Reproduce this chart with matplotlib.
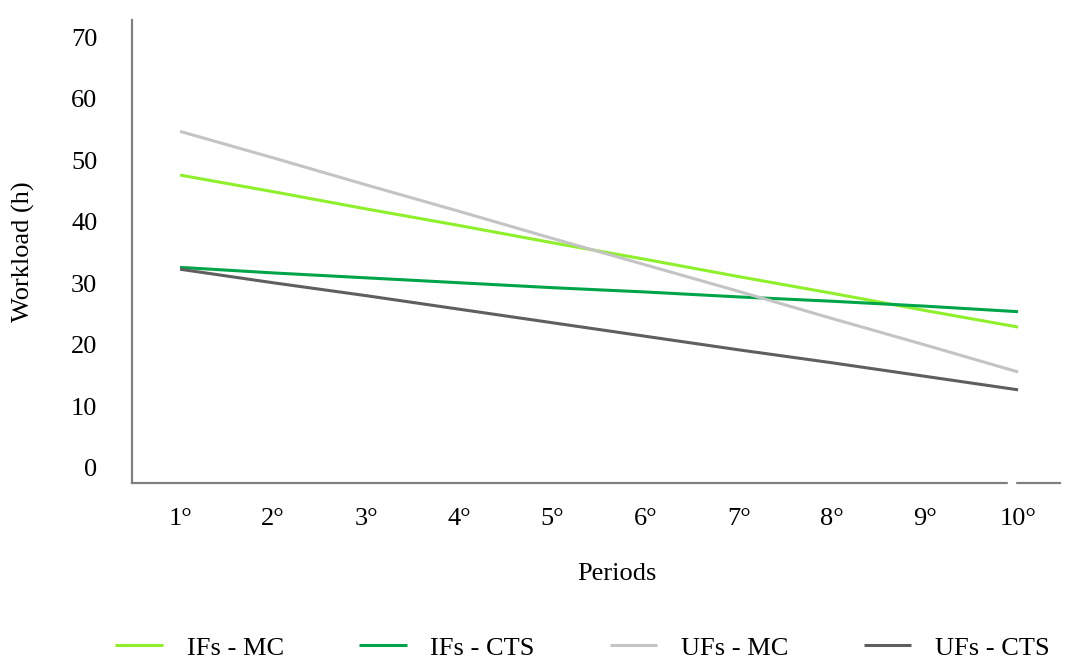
import matplotlib
matplotlib.use("Agg")
import matplotlib.pyplot as plt

# periods 1..10
periods = ["1°", "2°", "3°", "4°", "5°", "6°", "7°", "8°", "9°", "10°"]
ifs_mc = [47.6, 44.9, 42.1, 39.4, 36.6, 33.9, 31.1, 28.4, 25.6, 22.9]
ifs_cts = [32.6, 31.7, 30.9, 30.1, 29.3, 28.6, 27.8, 27.1, 26.3, 25.4]
ufs_mc = [54.7, 50.4, 46.0, 41.7, 37.3, 33.0, 28.7, 24.3, 20.0, 15.6]
ufs_cts = [32.3, 30.1, 28.0, 25.8, 23.6, 21.4, 19.2, 17.1, 14.9, 12.7]

series = [
    ("IFs - MC", ifs_mc, "#8EF02A"),
    ("IFs - CTS", ifs_cts, "#00A54A"),
    ("UFs - MC", ufs_mc, "#C4C4C4"),
    ("UFs - CTS", ufs_cts, "#5F5F5F"),
]

plt.rcParams["font.family"] = ["Liberation Serif", "DejaVu Serif"]
fs = 19

fig = plt.figure(figsize=(10.65, 6.61), dpi=100)
ax = fig.add_axes([132 / 1065, 178 / 661, (1060 - 132) / 1065, (483 - 20) / 661])

x = list(range(1, len(periods) + 1))
for name, vals, col in series:
    ax.plot(x, vals, color=col, lw=2.2, label=name, solid_capstyle="butt")

ax.set_xlim(0.484, 10.45)
ax.set_ylim(-2.44, 72.8)
ax.set_xticks(x)
ax.set_xticklabels(periods)
ax.set_yticks(range(0, 71, 10))
ax.tick_params(length=0, labelsize=fs)
ax.tick_params(axis="x", pad=18)
ax.tick_params(axis="y", pad=25)

for s in ["top", "right"]:
    ax.spines[s].set_visible(False)
for s in ["left", "bottom"]:
    ax.spines[s].set_color("#808080")
    ax.spines[s].set_linewidth(1.6)

# small break in the x axis just before the last period
ax.axvspan(9.89, 9.97, ymin=-0.01, ymax=0.012, color="white", zorder=5, clip_on=False)

ax.set_xlabel("Periods", fontsize=fs)
ax.xaxis.set_label_coords(0.523, -0.173)
ax.set_ylabel("Workload (h)", fontsize=fs, labelpad=26)

fig.legend(loc="center", bbox_to_anchor=(0.547, 0.02), ncol=4, frameon=False,
           fontsize=fs, handlelength=1.8, handletextpad=0.9, columnspacing=2.85)

fig.savefig("out.png", dpi=100)
